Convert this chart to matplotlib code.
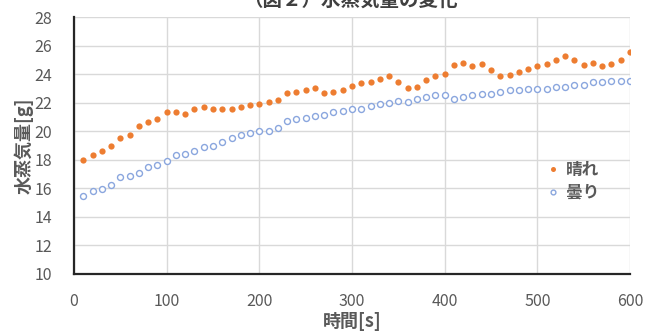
import matplotlib.pyplot as plt

plt.rcParams['font.family'] = ['Noto Sans CJK JP', 'DejaVu Sans']

# 時間 [s]
time_s = [10, 20, 30, 40, 50, 60, 70, 80, 90, 100,
          110, 120, 130, 140, 150, 160, 170, 180, 190, 200,
          210, 220, 230, 240, 250, 260, 270, 280, 290, 300,
          310, 320, 330, 340, 350, 360, 370, 380, 390, 400,
          410, 420, 430, 440, 450, 460, 470, 480, 490, 500,
          510, 520, 530, 540, 550, 560, 570, 580, 590, 600]

# 晴れ の水蒸気量 [g]
sunny = [18.00, 18.35, 18.58, 18.98, 19.53, 19.77, 20.35, 20.63, 20.86, 21.35,
         21.35, 21.23, 21.58, 21.70, 21.58, 21.58, 21.58, 21.70, 21.82, 21.93,
         22.03, 22.19, 22.65, 22.78, 22.88, 23.02, 22.65, 22.77, 22.88, 23.14,
         23.35, 23.47, 23.67, 23.86, 23.42, 23.00, 23.12, 23.56, 23.84, 23.98,
         24.63, 24.81, 24.58, 24.70, 24.26, 23.84, 23.96, 24.16, 24.35, 24.58,
         24.70, 24.98, 25.26, 25.00, 24.67, 24.81, 24.58, 24.74, 25.00, 25.56]

# 曇り の水蒸気量 [g]
cloudy = [15.44, 15.79, 15.98, 16.21, 16.79, 16.86, 17.07, 17.51, 17.65, 17.88,
          18.35, 18.43, 18.63, 18.86, 19.00, 19.23, 19.53, 19.74, 19.86, 20.00,
          20.05, 20.21, 20.70, 20.83, 20.91, 21.07, 21.16, 21.33, 21.40, 21.54,
          21.58, 21.77, 21.91, 21.98, 22.14, 22.06, 22.26, 22.42, 22.51, 22.56,
          22.23, 22.42, 22.56, 22.63, 22.60, 22.75, 22.92, 22.92, 22.98, 22.98,
          22.98, 23.12, 23.12, 23.26, 23.26, 23.42, 23.42, 23.49, 23.49, 23.49]

x_ticks = [0, 100, 200, 300, 400, 500, 600]
y_ticks = [10, 12, 14, 16, 18, 20, 22, 24, 26, 28]

fig = plt.figure(figsize=(6.45, 3.31), dpi=100)
ax = fig.add_axes([74 / 645, 1 - 274 / 331, 556 / 645, 257 / 331])

ax.plot(time_s, sunny, linestyle='none', marker='o', markersize=4.5,
        color='#ED7D31', markeredgewidth=0, label='晴れ', zorder=3)
ax.plot(time_s, cloudy, linestyle='none', marker='o', markersize=4.3,
        markerfacecolor='white', markeredgecolor='#8AA6DE', markeredgewidth=1.0,
        label='曇り', zorder=3)

ax.set_xlim(0, 600)
ax.set_ylim(10, 28)
ax.set_xticks(x_ticks)
ax.set_yticks(y_ticks)
ax.grid(True, color='#D9D9D9', linewidth=1.0)
ax.set_axisbelow(True)

for side in ['top', 'right']:
    ax.spines[side].set_visible(False)
for side in ['left', 'bottom']:
    ax.spines[side].set_color('#262626')
    ax.spines[side].set_linewidth(1.6)

ax.tick_params(length=0, labelsize=11.5, labelcolor='#595959')
ax.tick_params(axis='x', pad=14)
ax.tick_params(axis='y', pad=16)

ax.set_xlabel('時間[s]', fontsize=13, fontweight='bold', color='#595959', labelpad=1)
ax.set_ylabel('水蒸気量[g]', fontsize=13, fontweight='bold', color='#595959', labelpad=0)

fig.text(350 / 645, 1 - 6 / 331, '（図２）水蒸気量の変化', ha='center', va='baseline',
         fontsize=14, fontweight='bold', color='#404040')

leg = ax.legend(loc='upper left', bbox_to_anchor=(0.825, 0.5), frameon=False,
                fontsize=12, handlelength=0.6, handletextpad=0.5, labelspacing=0.3,
                markerscale=0.8)
for t in leg.get_texts():
    t.set_color('#595959')
    t.set_fontweight('bold')

fig.savefig('out.png', dpi=100)
